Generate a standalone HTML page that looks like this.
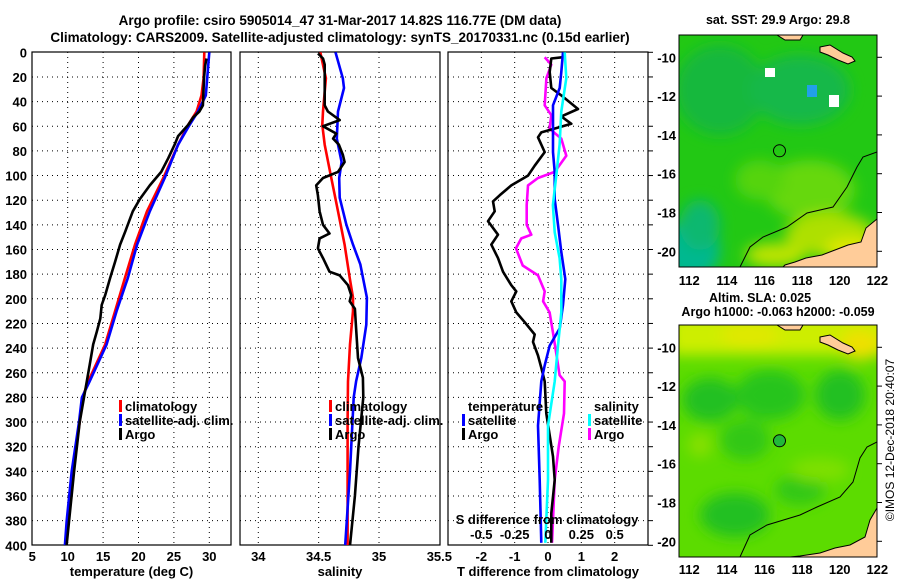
<!DOCTYPE html>
<html><head><meta charset="utf-8"><style>
body{margin:0;background:#fff;}
svg{display:block;font-family:"Liberation Sans",sans-serif;font-weight:bold;}
</style></head><body>
<svg id="chart" width="900" height="580" viewBox="0 0 900 580">
<defs>
<filter id="blur6" x="-50%" y="-50%" width="200%" height="200%"><feGaussianBlur stdDeviation="7"/></filter>
<filter id="blur4" x="-50%" y="-50%" width="200%" height="200%"><feGaussianBlur stdDeviation="4"/></filter>
<clipPath id="clipTop"><rect x="679" y="35" width="198" height="232"/></clipPath>
<clipPath id="clipBot"><rect x="679" y="325" width="198" height="232"/></clipPath>
<clipPath id="cp1"><rect x="32" y="52" width="199" height="493"/></clipPath>
<clipPath id="cp2"><rect x="240" y="52" width="200" height="493"/></clipPath>
<clipPath id="cp3"><rect x="448" y="52" width="200" height="493"/></clipPath>
</defs>
<text x="340" y="25" text-anchor="middle" font-size="13.5">Argo profile: csiro 5905014_47 31-Mar-2017 14.82S 116.77E (DM data)</text>
<text x="340" y="42" text-anchor="middle" font-size="13.5">Climatology: CARS2009. Satellite-adjusted climatology: synTS_20170331.nc (0.15d earlier)</text>
<g id="grids"></g>
<g id="series"></g>
<g id="labels" font-size="13"></g>

<!-- top map -->
<g>
<g clip-path="url(#clipTop)">
<rect x="679" y="35" width="198" height="232" fill="#22c814"/>
<g filter="url(#blur6)">
<ellipse cx="720" cy="90" rx="45" ry="45" fill="#14b83c"/>
<ellipse cx="800" cy="90" rx="50" ry="35" fill="#18b848"/>
<ellipse cx="690" cy="250" rx="30" ry="30" fill="#00b890"/>
<ellipse cx="700" cy="225" rx="20" ry="25" fill="#10b870"/>
<ellipse cx="810" cy="190" rx="45" ry="30" fill="#66d80a"/>
<ellipse cx="830" cy="235" rx="45" ry="22" fill="#aee000"/>
<ellipse cx="850" cy="250" rx="25" ry="12" fill="#e0e800"/>
<ellipse cx="775" cy="255" rx="30" ry="12" fill="#bde400"/>
<ellipse cx="760" cy="180" rx="25" ry="20" fill="#55d40c"/>
</g>
<rect x="765" y="68" width="10" height="9" fill="#fff"/>
<rect x="829" y="95" width="10" height="12" fill="#fff"/>
<rect x="807" y="85" width="10" height="12" fill="#22a0e8"/>
<polygon points="877,219 866,228 861,242 848,245 835,250 822,255 806,258 795,262 785,265 783,267 877,267" fill="#ffcc99" stroke="#000" stroke-width="1"/>
<polygon points="820,47 830,45 843,53 852,57 855,61 848,64 838,60 828,55 820,52" fill="#ffcc99" stroke="#000" stroke-width="1"/>
<polygon points="777,35 803,35 800,40 785,40" fill="#ffcc99" stroke="#000" stroke-width="1"/>
<polyline points="740,267 750,247 763,237 787,227 807,213 833,207 847,187 857,167 863,157 877,152" fill="none" stroke="#000" stroke-width="1"/>
<circle cx="779.5" cy="150.8" r="6" fill="none" stroke="#000" stroke-width="1"/>
</g>
<rect x="679" y="35" width="198" height="232" fill="none" stroke="#000"/>
</g>
<text x="778" y="24" text-anchor="middle" font-size="12.5">sat. SST: 29.9 Argo: 29.8</text>

<!-- bottom map -->
<g>
<g clip-path="url(#clipBot)">
<rect x="679" y="325" width="198" height="232" fill="#5cdc00"/>
<g filter="url(#blur6)">
<rect x="670" y="315" width="220" height="40" fill="#cdee00"/>
<ellipse cx="860" cy="345" rx="20" ry="15" fill="#eee000"/>
<ellipse cx="750" cy="335" rx="30" ry="12" fill="#e0e800"/>
<ellipse cx="710" cy="400" rx="28" ry="22" fill="#22c020"/>
<ellipse cx="770" cy="395" rx="35" ry="25" fill="#28c41c"/>
<ellipse cx="840" cy="395" rx="25" ry="25" fill="#22c020"/>
<ellipse cx="745" cy="440" rx="25" ry="20" fill="#30c818"/>
<ellipse cx="735" cy="515" rx="35" ry="22" fill="#22c020"/>
<ellipse cx="800" cy="490" rx="25" ry="15" fill="#30c818"/>
<ellipse cx="700" cy="445" rx="12" ry="12" fill="#88e000"/>
<ellipse cx="820" cy="470" rx="30" ry="12" fill="#7ee000"/>
</g>
<polygon points="877,508 870,520 865,537 850,545 835,548 820,553 800,556 790,557 877,557" fill="#ffcc99" stroke="#000" stroke-width="1"/>
<polygon points="820,337 830,335 843,343 852,347 855,351 848,354 838,350 828,345 820,342" fill="#ffcc99" stroke="#000" stroke-width="1"/>
<polygon points="777,325 803,325 800,330 785,330" fill="#ffcc99" stroke="#000" stroke-width="1"/>
<polyline points="740,557 750,535 767,525 800,515 817,507 840,497 853,482 860,458 867,447 877,442" fill="none" stroke="#000" stroke-width="1"/>
<circle cx="779.5" cy="440.8" r="6" fill="#22b83a" stroke="#000" stroke-width="1"/>
</g>
<rect x="679" y="325" width="198" height="232" fill="none" stroke="#000"/>
</g>
<text x="760" y="302" text-anchor="middle" font-size="12.5">Altim. SLA: 0.025</text>
<text x="778" y="316" text-anchor="middle" font-size="12.5">Argo h1000: -0.063 h2000: -0.059</text>
<text transform="translate(894,440) rotate(-90)" text-anchor="middle" font-size="12" font-weight="normal">©IMOS 12-Dec-2018 20:40:07</text>
<g id="maplabels" font-size="13"></g>
</svg>
<script>
// ---- temperature panel data ----
const tClimDepth = [0,21,35,48,59,75,102,129,156,183,210,237,267,280,300,340,380,400];
const tClimVal   = [29.3,29.2,28.9,28.2,27.0,25.6,23.5,21.2,19.5,18.1,16.7,15.3,12.9,12.1,11.7,10.7,10.0,9.75];
const tSatDepth  = [0,21,35,48,59,75,102,129,156,183,210,237,267,280,300,340,380,400];
const tSatVal    = [30.0,29.7,29.5,28.4,27.2,25.6,23.7,21.6,19.8,18.5,16.9,15.5,13.1,12.0,11.6,10.56,9.86,9.6];
const tArgoDepth = [5,11,21,43,48,53,59,68,75,86,97,108,119,129,146,156,170,183,197,205,216,227,237,254,267,280,300,340,380,400];
const tArgoVal   = [29.6,29.4,29.25,29.1,28.6,27.7,27.0,25.6,25.1,24.2,23.2,21.6,20.2,19.2,18.1,17.4,16.7,16.0,15.3,14.8,14.6,14.1,13.6,13.1,12.7,12.3,11.7,10.9,10.2,9.85];
// ---- salinity panel data ----
const sClimDepth = [0,21,48,59,75,102,129,156,183,199,210,237,267,300,340,400];
const sClimVal   = [34.514,34.56,34.536,34.53,34.55,34.605,34.66,34.715,34.757,34.785,34.785,34.76,34.743,34.74,34.74,34.74];
const sSatDepth  = [0,21,29,48,70,89,102,118,140,156,172,199,221,248,267,280,340,400];
const sSatVal    = [34.64,34.70,34.71,34.66,34.65,34.69,34.67,34.674,34.73,34.785,34.845,34.9,34.895,34.853,34.81,34.79,34.76,34.72];
const sArgoDepth = [1,5,10,43,48,55,60,66,70,75,83,89,97,102,108,116,129,140,147,151,159,167,178,181,189,197,202,208,224,248,264,280,300,320,360,400];
const sArgoVal   = [34.495,34.536,34.55,34.55,34.577,34.674,34.536,34.646,34.62,34.668,34.70,34.715,34.66,34.536,34.48,34.494,34.508,34.536,34.59,34.508,34.494,34.536,34.59,34.674,34.743,34.77,34.757,34.8,34.81,34.826,34.867,34.87,34.85,34.83,34.8,34.76];
// ---- difference panel data ----
const dTSatDepth  = [0,16,29,43,59,81,97,119,140,162,184,205,224,238,254,267,303,347,398];
const dTSatVal    = [0.45,0.4,0.35,0.15,0.15,0.15,0.2,0.2,0.3,0.4,0.52,0.45,0.35,0.05,-0.1,-0.2,-0.3,-0.25,-0.2];
const dTArgoDepth = [4,5,16,29,35,46,52,58,65,69,81,92,100,108,116,121,129,137,148,156,167,178,189,194,202,211,219,229,235,246,256,267,293,328,347,374,398];
const dTArgoVal   = [0.45,0.1,0.05,0.1,0.4,0.9,0.4,0.7,-0.2,-0.3,-0.1,-0.4,-0.6,-1.1,-1.45,-1.65,-1.6,-1.8,-1.5,-1.7,-1.5,-1.35,-1.1,-0.95,-1.1,-0.95,-0.7,-0.4,-0.45,-0.3,-0.2,-0.1,-0.05,0.15,0.2,0.1,0.1];
const dSSatDepth  = [0,21,48,75,102,124,146,167,184,211,238,267,303,347,398];
const dSSatVal    = [0.125,0.137,0.1,0.087,0.06,0.037,0.05,0.087,0.1,0.1,0.075,0.05,0,0,-0.02];
const dSArgoDepth = [4,10,21,43,51,62,70,84,97,102,108,124,140,148,151,159,173,181,194,202,211,227,243,262,267,293,320,347,374,398];
const dSArgoVal   = [-0.025,0.025,-0.012,-0.025,0.025,0.012,0.1,0.137,0.05,-0.075,-0.15,-0.16,-0.16,-0.125,-0.2,-0.24,-0.19,-0.075,-0.025,-0.037,0.012,0.037,0.06,0.087,0.125,0.12,0.08,0.05,0.04,0.03];
// ---- ticks ----
const depthTicks = [0,20,40,60,80,100,120,140,160,180,200,220,240,260,280,300,320,340,360,380,400];
const tempTicks = [5,10,15,20,25,30];
const salTicks = [34,34.5,35,35.5];
const dTTicks = [-2,-1,0,1,2];
const dSTicks = [-0.5,-0.25,0,0.25,0.5];
const dSTickLabels = ["-0.5","-0.25","0","0.25","0.5"];
const lonTicks = [112,114,116,118,120,122];
const latTicks = [-10,-12,-14,-16,-18,-20];

const NS = "http://www.w3.org/2000/svg";
const yD = d => 52.3 + d * 1.2325;
const xT = v => 32.3 + (v - 5) * 7.08;
const xS = v => 258.3 + (v - 34) * 120.7;
const xDT = v => 548 + v * 33.33;
const xDS = v => 548 + v * 133.3;
const mapX = lon => 689.3 + (lon - 112) * 18.8;
const mapY = lat => 57.3 + (-10 - lat) * 19.4;

function el(tag, attrs, parent, text) {
  const e = document.createElementNS(NS, tag);
  for (const k in attrs) e.setAttribute(k, attrs[k]);
  if (text !== undefined) e.textContent = text;
  parent.appendChild(e);
  return e;
}
const grids = document.getElementById('grids');
const series = document.getElementById('series');
const labels = document.getElementById('labels');
const panels = [
  {x0:32, x1:231, xf:xT, ticks:tempTicks, grid:[10,15,20,25,30], title:"temperature (deg C)", name:"temperature", clip:"cp1"},
  {x0:240, x1:440, xf:xS, ticks:salTicks, grid:[34,34.5,35], title:"salinity", name:"salinity", clip:"cp2"},
  {x0:448, x1:648, xf:xDT, ticks:dTTicks, grid:[-2,-1,0,1,2], title:"T difference from climatology", name:"difference", clip:"cp3"}
];
panels.forEach(p => {
  depthTicks.forEach(d => {
    if (d > 0 && d < 400) {
      const g = el('line', {x1:p.x0, x2:p.x1, y1:yD(d), y2:yD(d), stroke:'#000', 'stroke-width':1, 'stroke-dasharray':'1,4'}, grids);
      
      
    }
  });
  p.grid.forEach(v => {
    const g = el('line', {x1:p.xf(v), x2:p.xf(v), y1:52, y2:545, stroke:'#000', 'stroke-width':1, 'stroke-dasharray':'1,4'}, grids);
    
    
  });
  const b = el('rect', {x:p.x0, y:52, width:p.x1-p.x0, height:493, fill:'none', stroke:'#000', 'stroke-width':1.2}, grids);
  
  
  p.ticks.forEach(v => {
    const t = el('text', {x:p.xf(v), y:561, 'text-anchor':'middle'}, labels, String(v));
    
    
  });
  const at = el('text', {x:(p.x0+p.x1)/2, y:576, 'text-anchor':'middle'}, labels, p.title);
  
  
});
depthTicks.forEach(d => {
  const t = el('text', {x:27, y:yD(d)+5, 'text-anchor':'end'}, labels, String(d));
  
  
  const tk = el('line', {x1:648, x2:653, y1:yD(d), y2:yD(d), stroke:'#000'}, grids);
  
  
});
dSTicks.forEach((v, i) => {
  const t = el('text', {x:xDS(v), y:539, 'text-anchor':'middle'}, labels, dSTickLabels[i]);
  
  
});
const sTitle = el('text', {x:547, y:524, 'text-anchor':'middle'}, labels, 'S difference from climatology');



function line(depths, vals, xf, color, name, clip) {
  const pts = depths.map((d, i) => xf(vals[i]).toFixed(1) + ',' + yD(d).toFixed(1)).join(' ');
  const l = el('polyline', {points:pts, fill:'none', stroke:color, 'stroke-width':2.6, 'stroke-linejoin':'round', 'clip-path':'url(#'+clip+')'}, series);
  
  
}
line(tClimDepth, tClimVal, xT, '#ff0000', 'temp-climatology-line', 'cp1');
line(tSatDepth, tSatVal, xT, '#0000ff', 'temp-satellite-line', 'cp1');
line(tArgoDepth, tArgoVal, xT, '#000000', 'temp-argo-line', 'cp1');
line(sClimDepth, sClimVal, xS, '#ff0000', 'sal-climatology-line', 'cp2');
line(sSatDepth, sSatVal, xS, '#0000ff', 'sal-satellite-line', 'cp2');
line(sArgoDepth, sArgoVal, xS, '#000000', 'sal-argo-line', 'cp2');
line(dSArgoDepth, dSArgoVal, xDS, '#ff00ff', 's-diff-argo-line', 'cp3');
line(dTArgoDepth, dTArgoVal, xDT, '#000000', 't-diff-argo-line', 'cp3');
line(dTSatDepth, dTSatVal, xDT, '#0000ff', 't-diff-satellite-line', 'cp3');
line(dSSatDepth, dSSatVal, xDS, '#00ffff', 's-diff-satellite-line', 'cp3');

function legendEntry(x, y, color, text, name) {
  if (color) {
    const m = el('rect', {x:x-6, y:y-11, width:3, height:12, fill:color}, labels);
    
    
  }
  const t = el('text', {x:x, y:y}, labels, text);
  
  
}
[[125,'#ff0000','climatology'],[125,'#0000ff','satellite-adj. clim.'],[125,'#000','Argo']].forEach((e,i)=>legendEntry(e[0], 411+i*14, e[1], e[2], 'temp-legend-entry'));
[[335,'#ff0000','climatology'],[335,'#0000ff','satellite-adj. clim.'],[335,'#000','Argo']].forEach((e,i)=>legendEntry(e[0], 411+i*14, e[1], e[2], 'sal-legend-entry'));
legendEntry(468, 411, null, 'temperature', 'diff-legend-temperature-header');
legendEntry(468, 425, '#0000ff', 'satellite', 'diff-legend-temp-satellite');
legendEntry(468, 439, '#000', 'Argo', 'diff-legend-temp-argo');
legendEntry(594, 411, null, 'salinity', 'diff-legend-salinity-header');
legendEntry(594, 425, '#00ffff', 'satellite', 'diff-legend-sal-satellite');
legendEntry(594, 439, '#ff00ff', 'Argo', 'diff-legend-sal-argo');

const ml = document.getElementById('maplabels');
[0, 290].forEach(off => {
  lonTicks.forEach(lon => {
    const t = el('text', {x:mapX(lon), y:off===0?285:574, 'text-anchor':'middle'}, ml, String(lon));
    
    
  });
  latTicks.forEach(lat => {
    const t = el('text', {x:676, y:mapY(lat)+off+5, 'text-anchor':'end'}, ml, String(lat));
    
    
    const tk = el('line', {x1:877, x2:882, y1:mapY(lat)+off, y2:mapY(lat)+off, stroke:'#000'}, ml);
    
    
  });
});
</script>
</body></html>
